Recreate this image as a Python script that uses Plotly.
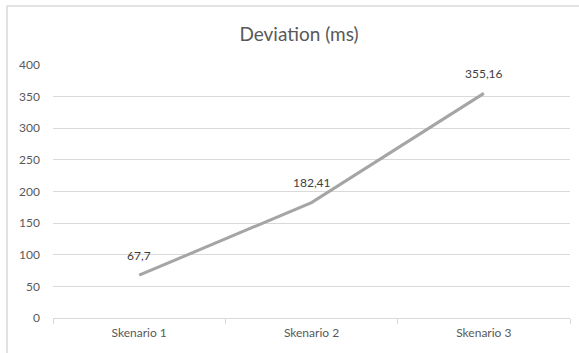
import plotly.graph_objects as go

categories = ["Skenario 1", "Skenario 2", "Skenario 3"]
deviation_ms = [67.7, 182.41, 355.16]
y_ticks = [0, 50, 100, 150, 200, 250, 300, 350, 400]

labels = [("%g" % v).replace(".", ",") for v in deviation_ms]

FONT = "Lato"
W, H = 579, 353
L, R, T, B = 53, 9, 65, 35
pw, ph = W - L - R, H - T - B

fig = go.Figure()
fig.add_trace(go.Scatter(
    x=categories, y=deviation_ms, mode="lines",
    line=dict(color="#a5a5a5", width=3),
    hoverinfo="skip", showlegend=False, cliponaxis=False,
))

annotations = [
    dict(x=c, y=v, text=t, showarrow=False, xanchor="center", yanchor="middle",
         yshift=20, font=dict(family=FONT, size=12, color="#404040"))
    for c, v, t in zip(categories, deviation_ms, labels)
]

fig.update_layout(
    width=W, height=H,
    margin=dict(l=L, r=R, t=T, b=B),
    paper_bgcolor="white", plot_bgcolor="white",
    title=dict(text="Deviation (ms)", x=299 / W, xanchor="center",
               y=1 - 34 / H, yanchor="middle", yref="container",
               font=dict(family=FONT, size=19, color="#595959")),
    xaxis=dict(
        type="category", range=[-0.5, 2.5],
        showline=True, linecolor="#d9d9d9", linewidth=1,
        ticks="outside", tickson="boundaries", ticklen=5, tickcolor="#d9d9d9",
        showgrid=False, zeroline=False,
        tickfont=dict(family=FONT, size=12, color="#595959"),
        ticklabelstandoff=4,
    ),
    yaxis=dict(
        range=[0, 400], tickvals=y_ticks,
        showgrid=True, gridcolor="#d9d9d9", gridwidth=1,
        zeroline=False, showline=False,
        tickfont=dict(family=FONT, size=12, color="#595959"),
        ticklabelstandoff=12,
    ),
    annotations=annotations,
    shapes=[
        dict(type="line", xref="paper", yref="paper",
             x0=(7 - L) / pw, x1=1 + R / pw + 0.05,
             y0=1 + (T - 6) / ph, y1=1 + (T - 6) / ph,
             line=dict(color="#d9d9d9", width=1.5)),
        dict(type="line", xref="paper", yref="paper",
             x0=(7 - L) / pw, x1=(7 - L) / pw,
             y0=1 + (T - 6) / ph, y1=-B / ph - 0.05,
             line=dict(color="#d9d9d9", width=1.5)),
    ],
)

fig.write_html("out.html", config={"displayModeBar": False, "staticPlot": True},
               post_script="document.body.style.margin='0';document.body.style.overflow='hidden';")
